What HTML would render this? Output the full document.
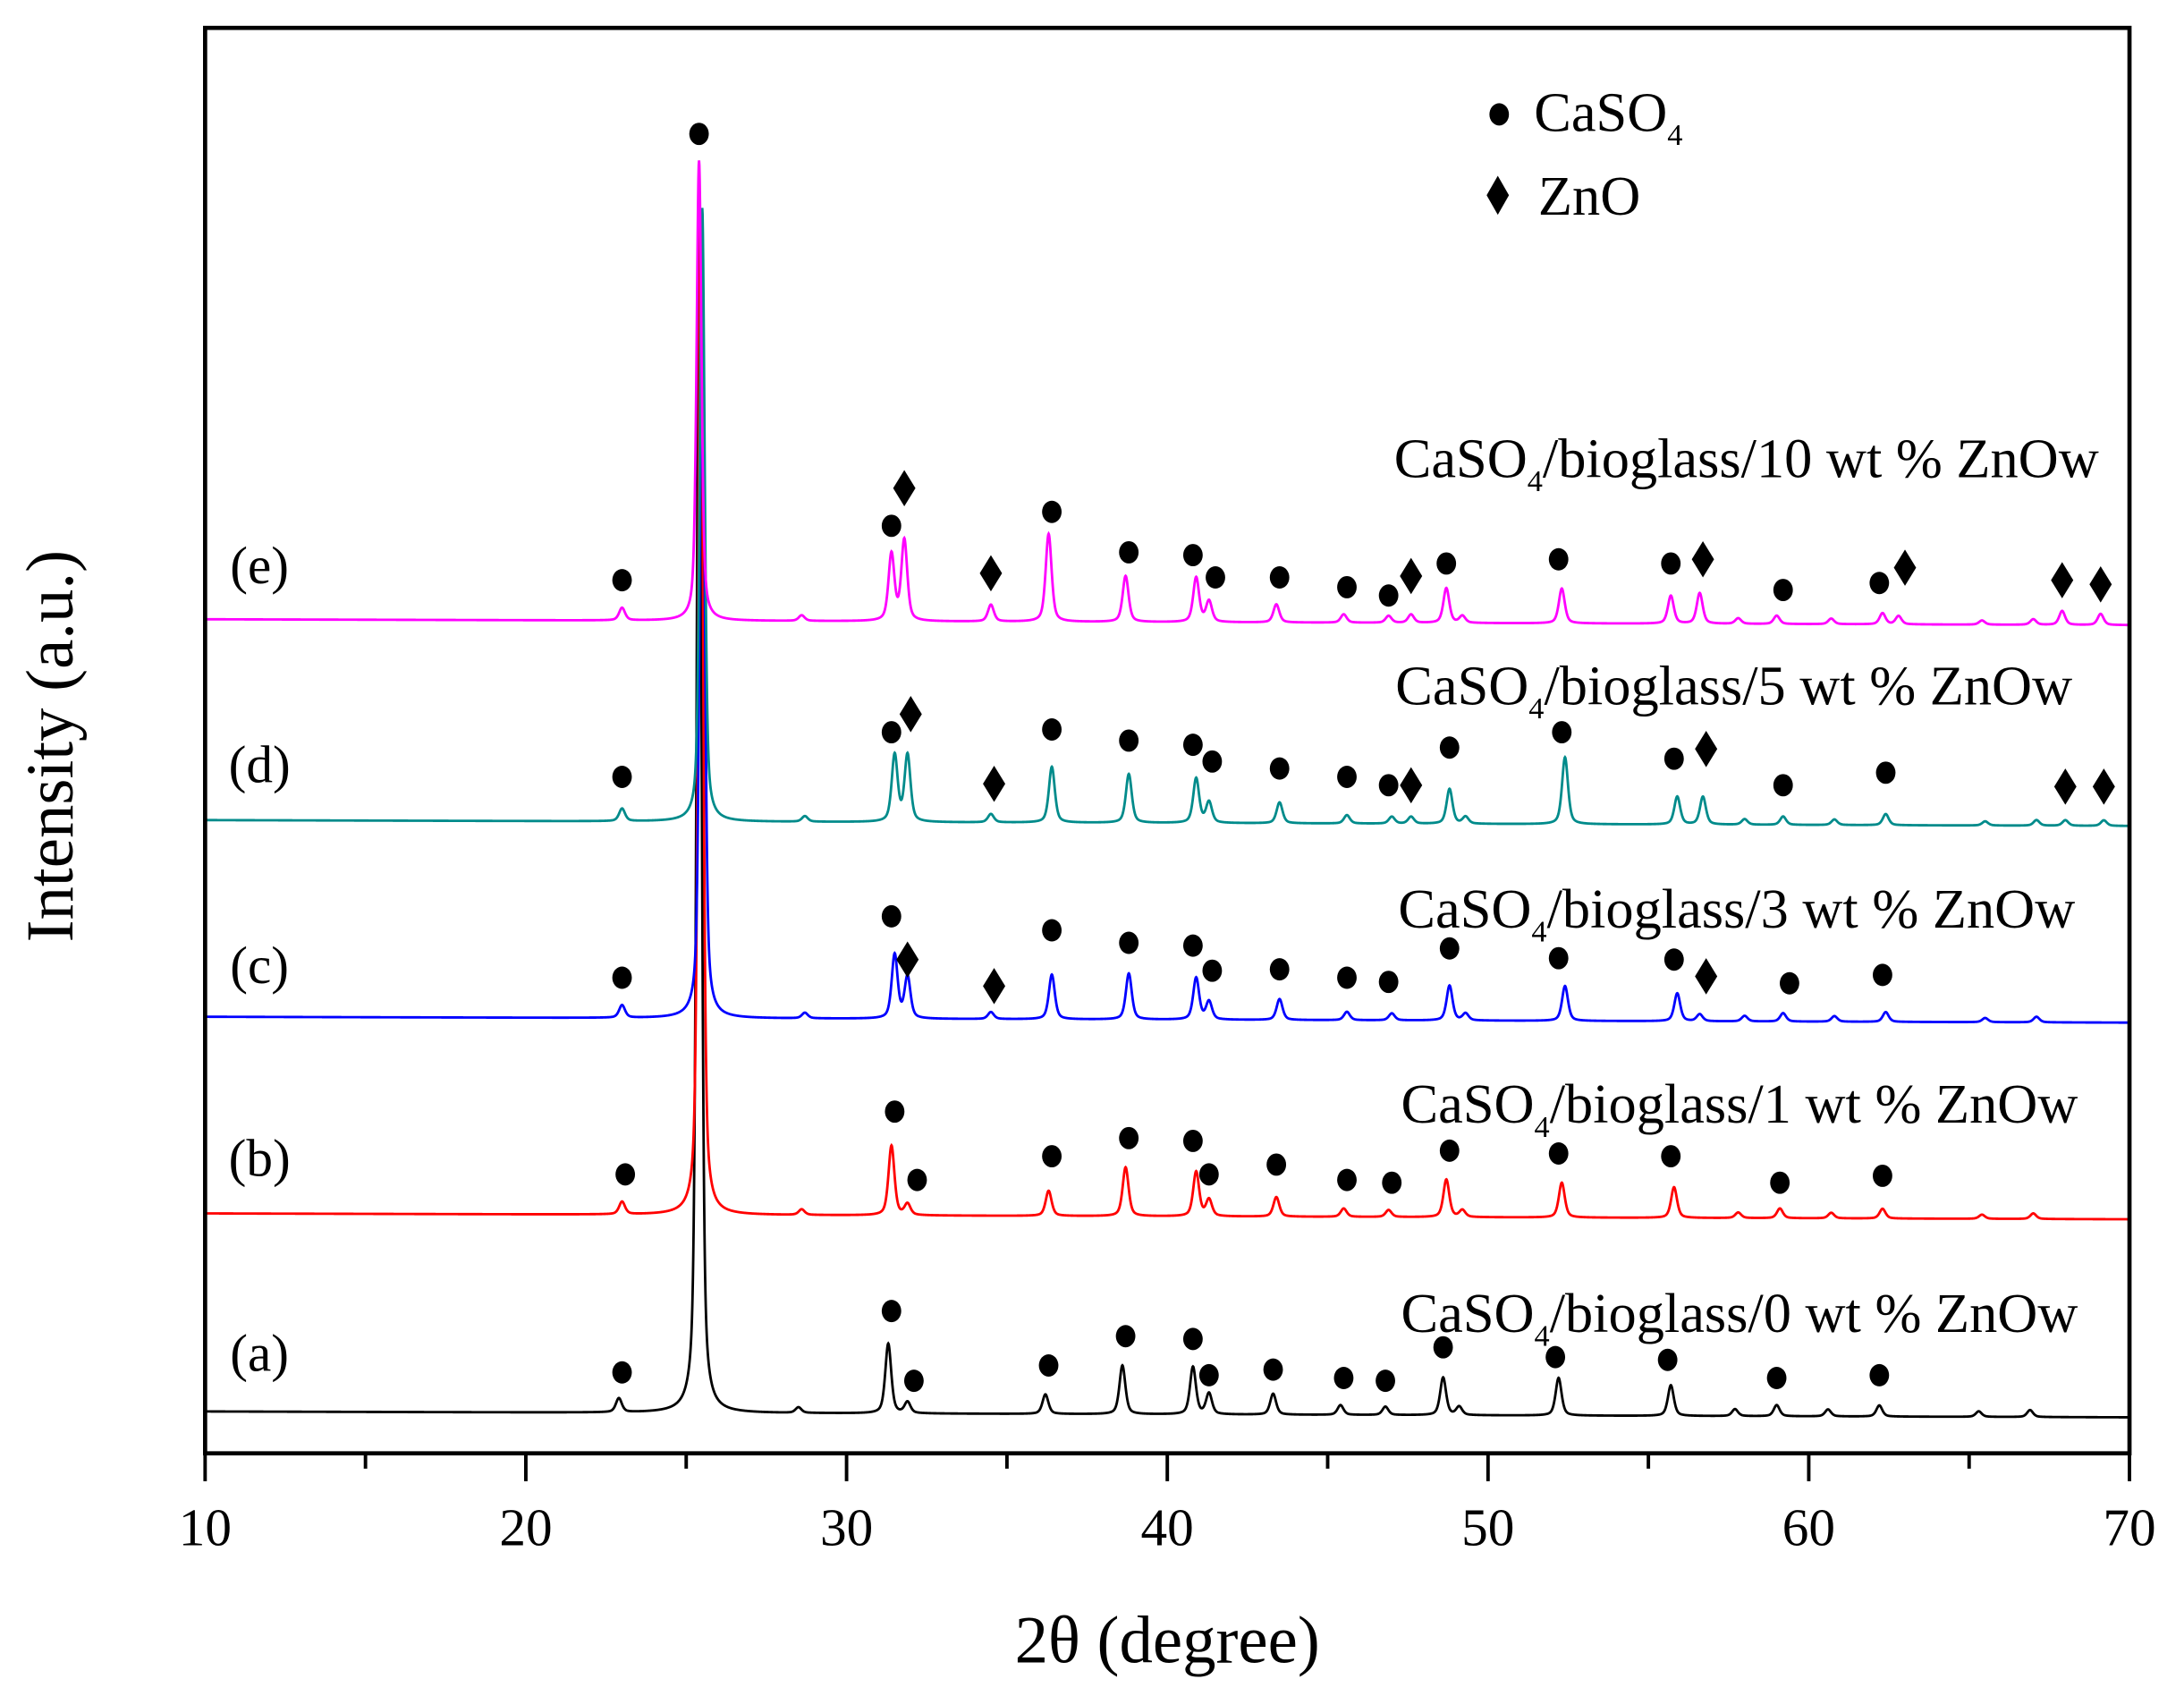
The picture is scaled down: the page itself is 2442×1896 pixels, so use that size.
<!DOCTYPE html>
<html><head><meta charset="utf-8"><style>
html,body{margin:0;padding:0;background:#fff;}
svg{display:block;}
text{font-family:"Liberation Serif","DejaVu Serif",serif;fill:#000;}
</style></head><body>
<svg id="chart" width="2442" height="1896" viewBox="0 0 1566 1216" xmlns="http://www.w3.org/2000/svg">
<rect x="0" y="0" width="1566" height="1216" fill="#fff"/>
<g id="series"></g>
<g id="markers"></g>
<rect x="147" y="20" width="1380" height="1022" fill="none" stroke="#000" stroke-width="3"/>
<g id="xaxis"></g>
<text x="837" y="1192" font-size="48" text-anchor="middle">2θ (degree)</text>
<text transform="translate(52,535) rotate(-90)" font-size="48" text-anchor="middle">Intensity (a.u.)</text>
<g>
  <ellipse cx="1075" cy="82" rx="7" ry="8" fill="#000"/>
  <text x="1100" y="94" font-size="40">CaSO<tspan font-size="22" dy="10">4</tspan></text>
  <path d="M1074,126 L1082,140 L1074,154 L1066,140 Z" fill="#000"/>
  <text x="1103" y="154" font-size="40">ZnO</text>
</g>
<g id="labels"></g>
</svg>
<script>
const xTicks = [10,20,30,40,50,60,70];
const xMinorTicks = [15,25,35,45,55,65];
const seriesNames = ["(a)","(b)","(c)","(d)","(e)"];
const seriesTitles = ["0","1","3","5","10"];
const seriesColors = ["#000000","#ff0000","#0000ff","#008b8b","#ff00ff"];
const baselines = [1012,870,729,588,444];
const peaksA = [[22.9,10],[25.4,860],[28.5,4],[31.3,50],[31.9,8],[36.2,14],[38.6,35],[40.8,34],[41.3,15],[43.3,15],[45.4,7],[46.8,6],[48.6,27],[49.1,6],[52.2,27],[55.7,22],[57.7,5],[59.0,8],[60.6,5],[62.2,8],[65.3,4],[66.9,5]];
const peaksB = [[23.0,9],[25.45,720],[28.6,4],[31.4,50],[31.9,8],[36.3,18],[38.7,35],[40.9,32],[41.3,12],[43.4,14],[45.5,6],[46.9,5],[48.7,27],[49.2,5],[52.3,25],[55.8,22],[57.8,4],[59.1,7],[60.7,4],[62.3,7],[65.4,3],[67.0,4]];
const peaksC = [[23.0,9],[25.5,560],[28.7,4],[31.5,46],[31.9,30],[34.5,5],[36.4,32],[38.8,33],[40.9,30],[41.3,13],[43.5,15],[45.6,6],[47.0,5],[48.8,25],[49.3,5],[52.4,25],[55.9,20],[56.6,5],[58.0,4],[59.2,6],[60.8,4],[62.4,7],[65.5,3],[67.1,4]];
const peaksD = [[23.0,9],[25.5,440],[28.7,4],[31.5,48],[31.9,48],[34.5,6],[36.4,40],[38.8,35],[40.9,32],[41.3,15],[43.5,15],[45.6,6],[47.0,5],[47.6,5],[48.8,25],[49.3,5],[52.4,48],[55.9,20],[56.7,20],[58.0,4],[59.2,6],[60.8,4],[62.4,8],[65.5,3],[67.1,4],[68.0,4],[69.2,4]];
const peaksE = [[23.0,9],[25.4,330],[28.6,4],[31.4,48],[31.8,58],[34.5,12],[36.3,63],[38.7,33],[40.9,32],[41.3,15],[43.4,13],[45.5,6],[46.9,5],[47.6,6],[48.7,25],[49.2,5],[52.3,25],[55.7,20],[56.6,22],[57.8,4],[59.0,6],[60.7,4],[62.3,8],[62.8,6],[65.4,3],[67.0,4],[67.9,10],[69.1,8]];
const allPeaks = [peaksA,peaksB,peaksC,peaksD,peaksE];
const circlesA = [[23.0,984],[31.4,940],[32.1,990],[36.3,979],[38.7,958],[40.8,960],[41.3,986],[43.3,982],[45.5,988],[46.8,990],[48.6,966],[52.1,973],[55.6,975],[59.0,988],[62.2,986]];
const circlesB = [[23.1,842],[31.5,797],[32.2,846],[36.4,829],[38.8,816],[40.8,818],[41.3,842],[43.4,835],[45.6,846],[47.0,848],[48.8,825],[52.2,827],[55.7,829],[59.1,848],[62.3,843]];
const circlesC = [[23.0,701],[31.4,657],[36.4,667],[38.8,676],[40.8,678],[41.4,696],[43.5,695],[45.6,701],[46.9,704],[48.8,680],[52.2,687],[55.8,688],[59.4,705],[62.3,699]];
const circlesD = [[23.0,557],[31.4,525],[36.4,523],[38.8,531],[40.8,534],[41.4,546],[43.5,551],[45.6,557],[46.9,563],[48.8,536],[52.3,525],[55.8,544],[59.2,563],[62.4,554]];
const circlesE = [[23.0,416],[25.4,96],[31.4,377],[36.4,367],[38.8,396],[40.8,398],[41.5,414],[43.5,414],[45.6,421],[46.9,427],[48.7,404],[52.2,401],[55.7,404],[59.2,423],[62.2,418]];
const diamonds = [[31.9,688],[34.6,707],[56.8,700],[32.0,512],[34.6,562],[47.6,563],[56.8,537],[68.0,564],[69.2,564],[31.8,350],[34.5,411],[47.6,413],[56.7,401],[63.0,407],[67.9,416],[69.1,419]];
const allCircles = [circlesA,circlesB,circlesC,circlesD,circlesE];

const X0=147, X1=1527, D0=10, D1=70;
function xs(d){ return X0 + (d-D0)/(D1-D0)*(X1-X0); }
const NS="http://www.w3.org/2000/svg";
function mk(tag, attrs, parent){ const e=document.createElementNS(NS,tag); for(const k in attrs) e.setAttribute(k,attrs[k]); parent.appendChild(e); return e; }

const xg=document.getElementById('xaxis');
xTicks.forEach(t=>{
  const l=mk('line',{x1:xs(t),x2:xs(t),y1:1042,y2:1062,stroke:'#000','stroke-width':2.5},xg);
  
  
  const tx=mk('text',{x:xs(t),y:1108,'font-size':38,'text-anchor':'middle'},xg);
  tx.textContent=t;
  
  
});
xMinorTicks.forEach(t=>{
  const l=mk('line',{x1:xs(t),x2:xs(t),y1:1042,y2:1053,stroke:'#000','stroke-width':2.5},xg);
  
  
});

const sg=document.getElementById('series');
allPeaks.forEach((pk,i)=>{
  let d='';
  for(let x=10;x<=70.0001;x+=0.01){
    let y=baselines[i]+ (x-10)*0.07;
    pk.forEach(p=>{ const w=p[1]>100?0.09:0.11; const u=(x-p[0])/w; y-=p[1]*(0.5/(1+u*u)+0.5*Math.exp(-u*u*0.7)); });
    d+=(d?'L':'M')+xs(x).toFixed(2)+','+y.toFixed(2);
  }
  const path=mk('path',{d:d,fill:'none',stroke:seriesColors[i],'stroke-width':1.8},sg);
  
  
});

const mg=document.getElementById('markers');
allCircles.forEach(arr=>arr.forEach(c=>{
  const e=mk('ellipse',{cx:xs(c[0]),cy:c[1],rx:7,ry:8,fill:'#000'},mg);
  
  
}));
diamonds.forEach(c=>{
  const x=xs(c[0]), y=c[1];
  const e=mk('path',{d:`M${x},${y-13} L${x+8},${y} L${x},${y+13} L${x-8},${y} Z`,fill:'#000'},mg);
  
  
});

const lg=document.getElementById('labels');
const nameY=[970,830,692,548,405];
const titleY=[955,805,665,505,342];
const titleX=[1490,1490,1488,1486,1505];
seriesNames.forEach((n,i)=>{
  const t=mk('text',{x:186,y:nameY[i]+13,'font-size':38,'text-anchor':'middle'},lg);
  t.textContent=n;
  
  
  const tt=mk('text',{x:titleX[i],y:titleY[i],'font-size':40,'text-anchor':'end'},lg);
  
  
  tt.innerHTML='CaSO<tspan font-size="22" dy="10">4</tspan><tspan dy="-10">/bioglass/'+seriesTitles[i]+' wt % ZnOw</tspan>';
});
</script>
</body></html>
